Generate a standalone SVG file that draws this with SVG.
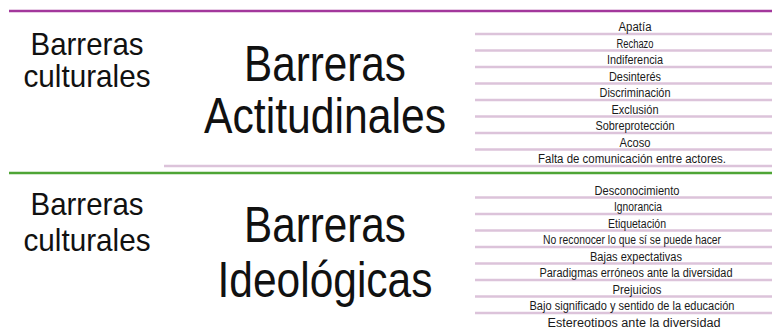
<svg xmlns="http://www.w3.org/2000/svg" width="772" height="327" viewBox="0 0 772 327">
<style>
.bg{fill:#ffffff}
.sep{stroke-width:2.5;fill:none}
.purple{stroke:#a3389c}
.green{stroke:#4ea535}
.rule{stroke:#dcc3da;stroke-width:2.5;fill:none}
.cult{font-family:"Liberation Sans",Arial,sans-serif;font-size:32px;fill:#111;text-anchor:middle}
.big{font-family:"Liberation Sans",Arial,sans-serif;font-size:50px;fill:#111;text-anchor:middle}
.item{font-family:"Liberation Sans Narrow","Liberation Sans",Arial,sans-serif;font-size:12.5px;fill:#1a1a1a;text-anchor:middle}
</style>
<rect class="bg" x="0" y="0" width="772" height="327"/>
<g id="rules">
<line class="sep purple" x1="9" y1="11" x2="772" y2="11"/>
<line class="sep green" x1="9" y1="173" x2="772" y2="173"/>
<line class="rule" x1="475" y1="34" x2="772" y2="34"/>
<line class="rule" x1="475" y1="50.5" x2="772" y2="50.5"/>
<line class="rule" x1="475" y1="67" x2="772" y2="67"/>
<line class="rule" x1="475" y1="83.5" x2="772" y2="83.5"/>
<line class="rule" x1="475" y1="100" x2="772" y2="100"/>
<line class="rule" x1="475" y1="116.5" x2="772" y2="116.5"/>
<line class="rule" x1="475" y1="133" x2="772" y2="133"/>
<line class="rule" x1="475" y1="149.5" x2="772" y2="149.5"/>
<line class="rule" x1="164" y1="166" x2="772" y2="166"/>
<line class="rule" x1="475" y1="197.5" x2="772" y2="197.5"/>
<line class="rule" x1="475" y1="214" x2="772" y2="214"/>
<line class="rule" x1="475" y1="230.5" x2="772" y2="230.5"/>
<line class="rule" x1="475" y1="247" x2="772" y2="247"/>
<line class="rule" x1="475" y1="263.5" x2="772" y2="263.5"/>
<line class="rule" x1="475" y1="280" x2="772" y2="280"/>
<line class="rule" x1="475" y1="296.5" x2="772" y2="296.5"/>
<line class="rule" x1="475" y1="313" x2="772" y2="313"/>
</g>
<g id="cultural-top">
<text class="cult" x="87" y="55" textLength="113" lengthAdjust="spacingAndGlyphs">Barreras</text>
<text class="cult" x="87" y="87" textLength="127" lengthAdjust="spacingAndGlyphs">culturales</text>
</g>
<g id="actitudinales">
<text class="big" x="325" y="81" textLength="162" lengthAdjust="spacingAndGlyphs">Barreras</text>
<text class="big" x="325" y="133" textLength="242" lengthAdjust="spacingAndGlyphs">Actitudinales</text>
</g>
<g id="actitudinales-list">
<text class="item" x="635" y="31" textLength="33" lengthAdjust="spacingAndGlyphs">Apatía</text>
<text class="item" x="635" y="47.5" textLength="37" lengthAdjust="spacingAndGlyphs">Rechazo</text>
<text class="item" x="635" y="64" textLength="56" lengthAdjust="spacingAndGlyphs">Indiferencia</text>
<text class="item" x="635" y="80.5" textLength="52" lengthAdjust="spacingAndGlyphs">Desinterés</text>
<text class="item" x="635" y="97" textLength="71" lengthAdjust="spacingAndGlyphs">Discriminación</text>
<text class="item" x="635" y="113.5" textLength="47" lengthAdjust="spacingAndGlyphs">Exclusión</text>
<text class="item" x="635" y="130" textLength="79" lengthAdjust="spacingAndGlyphs">Sobreprotección</text>
<text class="item" x="635" y="146.5" textLength="31" lengthAdjust="spacingAndGlyphs">Acoso</text>
<text class="item" x="632" y="163" textLength="188" lengthAdjust="spacingAndGlyphs">Falta de comunicación entre actores.</text>
</g>
<g id="cultural-bottom">
<text class="cult" x="87" y="215" textLength="113" lengthAdjust="spacingAndGlyphs">Barreras</text>
<text class="cult" x="87" y="251" textLength="127" lengthAdjust="spacingAndGlyphs">culturales</text>
</g>
<g id="ideologicas">
<text class="big" x="325" y="242" textLength="162" lengthAdjust="spacingAndGlyphs">Barreras</text>
<text class="big" x="325" y="297" textLength="215" lengthAdjust="spacingAndGlyphs">Ideológicas</text>
</g>
<g id="ideologicas-list">
<text class="item" x="637" y="194.5" textLength="85" lengthAdjust="spacingAndGlyphs">Desconocimiento</text>
<text class="item" x="638" y="211" textLength="48" lengthAdjust="spacingAndGlyphs">Ignorancia</text>
<text class="item" x="637" y="227.5" textLength="58" lengthAdjust="spacingAndGlyphs">Etiquetación</text>
<text class="item" x="632" y="244" textLength="178" lengthAdjust="spacingAndGlyphs">No reconocer lo que sí se puede hacer</text>
<text class="item" x="636" y="260.5" textLength="92" lengthAdjust="spacingAndGlyphs">Bajas expectativas</text>
<text class="item" x="636" y="277" textLength="193" lengthAdjust="spacingAndGlyphs">Paradigmas erróneos ante la diversidad</text>
<text class="item" x="637" y="293.5" textLength="49" lengthAdjust="spacingAndGlyphs">Prejuicios</text>
<text class="item" x="632" y="310" textLength="205" lengthAdjust="spacingAndGlyphs">Bajo significado y sentido de la educación</text>
<text class="item" x="634" y="326.5" textLength="173" lengthAdjust="spacingAndGlyphs">Estereotipos ante la diversidad</text>
</g>
</svg>
